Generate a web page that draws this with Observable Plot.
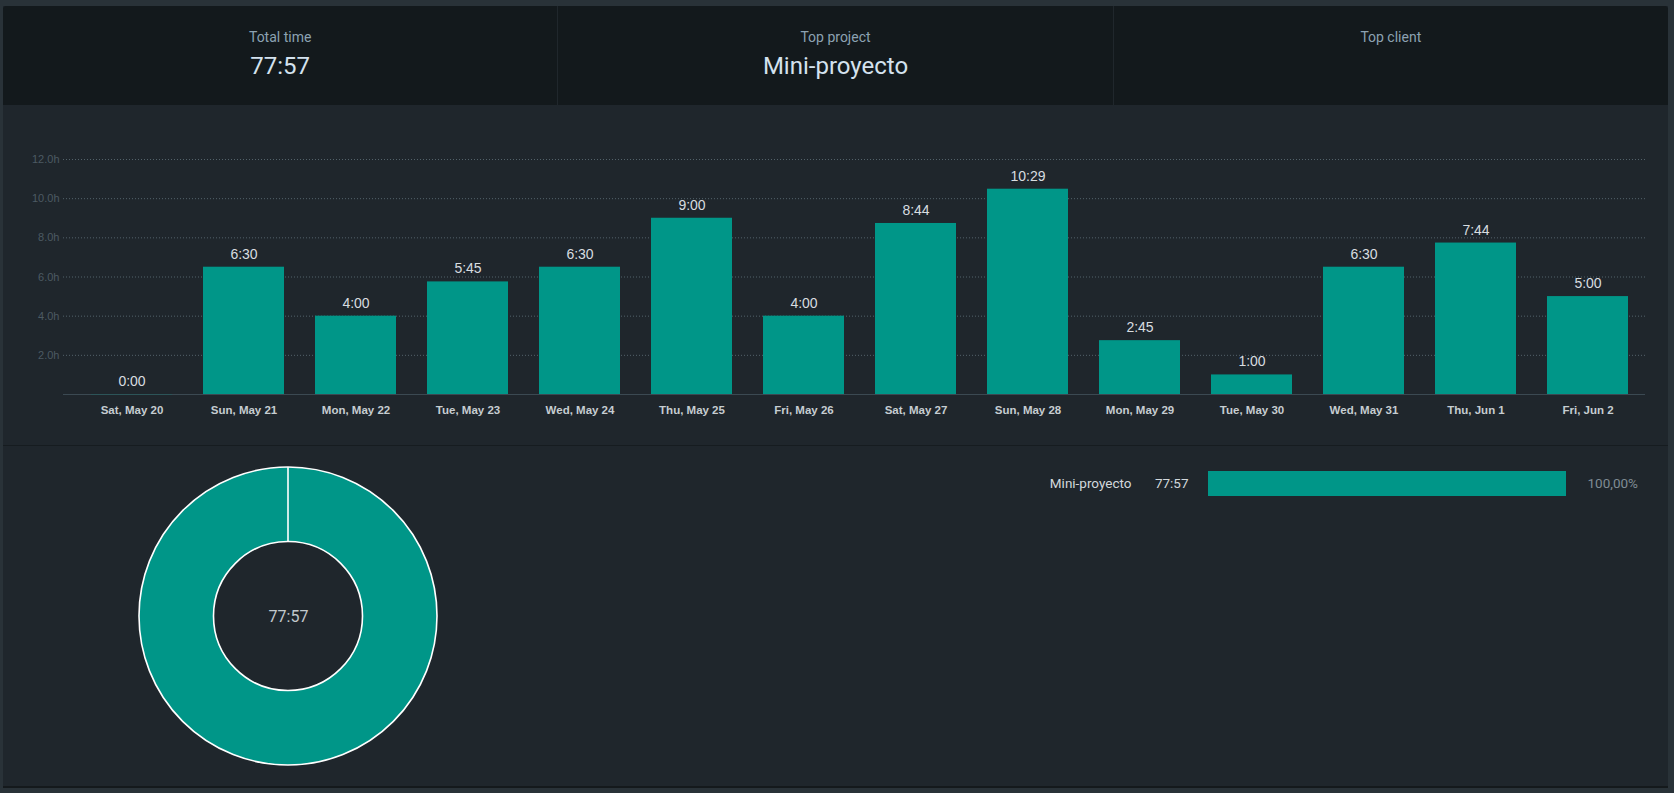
<!DOCTYPE html>
<html><head><meta charset="utf-8">
<script src="https://cdn.jsdelivr.net/npm/d3@7"></script>
<script src="https://cdn.jsdelivr.net/npm/@observablehq/plot@0.6"></script>
<style>
html,body{margin:0;padding:0;}
body{background:#293238;width:1674px;height:793px;overflow:hidden;font-family:Roboto,"Noto Sans",sans-serif;position:relative;}
#panel{position:absolute;left:3px;top:6px;width:1665px;height:780px;background:#1f262c;border-bottom:2px solid #14191c;}
#header{position:absolute;left:0;top:0;width:1665px;height:99px;background:#13191c;display:flex;border-radius:3px 3px 0 0;}
.col{flex:1;position:relative;border-right:1px solid #20272c;}
.col:last-child{border-right:none;}
.ttl{position:absolute;left:0;right:0;top:21px;line-height:20px;text-align:center;font-size:14px;color:#8ca2b2;}
.val{position:absolute;left:0;right:0;top:45px;line-height:30px;text-align:center;font-size:24px;color:#d4e2ee;}
#chart{position:absolute;left:0;top:99px;}
#sep{position:absolute;left:0;top:439px;width:1665px;height:1px;background:#161c20;}
#donut{position:absolute;left:0;top:440px;}
#legend{position:absolute;left:997px;top:440px;}
svg{overflow:visible;}
</style>
</head><body>
<div id="panel">
  <div id="header"></div>
  <div id="chart"></div>
  <div id="sep"></div>
  <div id="donut"></div>
  <div id="legend"></div>
</div>
<script>
// ---- data ----
const summaryTitles = ["Total time", "Top project", "Top client"];
const summaryValues = ["77:57", "Mini-proyecto", ""];

const days = ["Sat, May 20","Sun, May 21","Mon, May 22","Tue, May 23","Wed, May 24","Thu, May 25","Fri, May 26","Sat, May 27","Sun, May 28","Mon, May 29","Tue, May 30","Wed, May 31","Thu, Jun 1","Fri, Jun 2"];
const durations = ["0:00","6:30","4:00","5:45","6:30","9:00","4:00","8:44","10:29","2:45","1:00","6:30","7:44","5:00"];
const yTicks = [2, 4, 6, 8, 10, 12];

const projects = ["Mini-proyecto"];
const projectTimes = ["77:57"];
const projectShares = [100];
const totalLabel = "77:57";

// ---- header ----
const header = document.getElementById("header");
summaryTitles.forEach((t, i) => {
  const c = document.createElement("div"); c.className = "col";
  const a = document.createElement("div"); a.className = "ttl"; a.textContent = t;
  const b = document.createElement("div"); b.className = "val"; b.textContent = summaryValues[i];
  c.appendChild(a); c.appendChild(b); header.appendChild(c);
});

// ---- bar chart ----
const toHours = s => { const [h, m] = s.split(":").map(Number); return h + m / 60; };
const rows = days.map((d, i) => ({day: d, label: durations[i], hours: toHours(durations[i])}));
const teal = "#009688";

const chart = Plot.plot({
  width: 1665, height: 340,
  marginLeft: 70, marginRight: 23, marginTop: 54, marginBottom: 51,
  style: {background: "transparent", fontFamily: "'Liberation Sans', Arial, sans-serif", overflow: "visible"},
  x: {domain: days, paddingInner: 0.28, paddingOuter: 0.14, label: null, axis: null},
  y: {domain: [0, 12], label: null, axis: null},
  marks: [
    Plot.ruleY(yTicks, {stroke: "#53626a", strokeDasharray: "1,2", insetLeft: -10}),
    Plot.ruleY([0], {stroke: "#3b4952", insetLeft: -10}),
    Plot.barY(rows, {x: "day", y: "hours", fill: teal}),
    Plot.tickY(rows.filter(r => r.hours === 0), {x: "day", y: "hours", stroke: "#2c5458", strokeWidth: 1}),
    Plot.text(rows, {x: "day", y: "hours", text: "label", dy: -13, fill: "#d8dde0", fontSize: 14}),
    Plot.axisY(yTicks, {tickSize: 0, tickPadding: 14, tickFormat: d => d.toFixed(1) + "h", fill: "#4c5a63", fontSize: 11, label: null}),
    Plot.axisX({tickSize: 0, tickPadding: 11, fill: "#c6cdd1", fontSize: 11.5, fontWeight: "bold", label: null})
  ]
});
document.getElementById("chart").appendChild(chart);

// ---- donut ----
const projectMinutes = projectTimes.map(s => { const [h, m] = s.split(":").map(Number); return h * 60 + m; });
const donut = Plot.plot({
  width: 570, height: 340, margin: 0,
  style: {background: "transparent", overflow: "visible"},
  x: {domain: [-1, 1], axis: null},
  y: {domain: [-1, 1], axis: null},
  marks: [
    (index, scales) => {
      const cx = scales.x(0), cy = scales.y(0);
      const rOuter = 149, rInner = 74.5;
      const pie = d3.pie().sort(null)(projectMinutes);
      const arc = d3.arc().innerRadius(rInner).outerRadius(rOuter);
      const g = d3.create("svg:g").attr("transform", `translate(${cx},${cy})`);
      g.selectAll("path.s").data(pie).join("path").attr("class", "s")
        .attr("d", arc).attr("fill", teal).attr("stroke", "#ffffff").attr("stroke-width", 1.6);
      g.selectAll("line").data(pie).join("line")
        .attr("x1", d => rInner * Math.sin(d.startAngle)).attr("y1", d => -rInner * Math.cos(d.startAngle))
        .attr("x2", d => rOuter * Math.sin(d.startAngle)).attr("y2", d => -rOuter * Math.cos(d.startAngle))
        .attr("stroke", "#ffffff").attr("stroke-width", 1.6);
      return g.node();
    },
    Plot.text([totalLabel], {x: () => 0, y: () => 0, text: d => d, fill: "#c2c9cd", fontSize: 16, fontFamily: "Roboto"})
  ]
});
document.getElementById("donut").appendChild(donut);

// ---- project legend bar ----
const projRows = projects.map((p, i) => ({project: p, time: projectTimes[i], share: projectShares[i]}));
const legend = Plot.plot({
  width: 668, height: 80,
  marginLeft: 208, marginRight: 102, marginTop: 25, marginBottom: 30,
  style: {background: "transparent", overflow: "visible", fontFamily: "Roboto"},
  x: {domain: [0, 100], axis: null},
  y: {domain: projects, padding: 0, axis: null},
  marks: [
    Plot.barX(projRows, {x: "share", y: "project", fill: teal}),
    Plot.text(projRows, {x: () => 0, y: "project", text: "project", textAnchor: "end", dx: -77, fill: "#d2d8dc", fontSize: 13.5}),
    Plot.text(projRows, {x: () => 0, y: "project", text: "time", textAnchor: "end", dx: -20, fill: "#d2d8dc", fontSize: 13.5}),
    Plot.text(projRows, {x: "share", y: "project", text: d => d.share.toFixed(2).replace(".", ",") + "%", textAnchor: "start", dx: 21, fill: "#7f8c94", fontSize: 13.5})
  ]
});
document.getElementById("legend").appendChild(legend);
</script>
</body></html>
